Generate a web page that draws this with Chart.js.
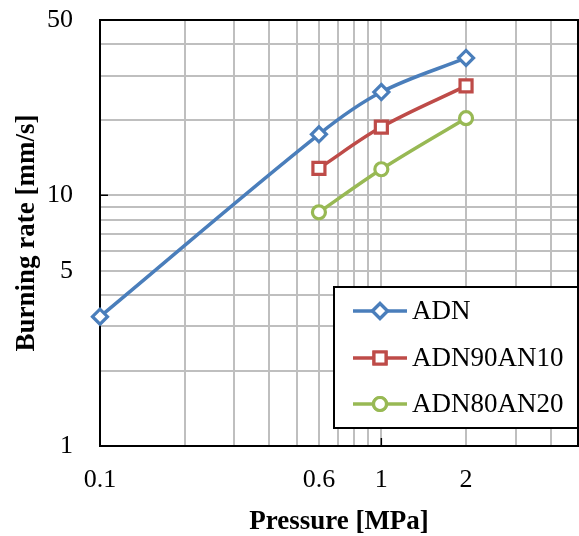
<!DOCTYPE html>
<html><head><meta charset="utf-8">
<script src="https://cdn.jsdelivr.net/npm/chart.js@4"></script>
<style>html,body{margin:0;padding:0;background:#fff}#wrap{width:579px;height:536px}</style>
</head><body><div id="wrap"><canvas id="c" width="579" height="536"></canvas></div>
<script>
const seriesNames = ['ADN', 'ADN90AN10', 'ADN80AN20'];
const pressureADN = [0.1, 0.6, 1, 2];
const rateADN = [3.28, 17.5, 25.8, 35.3];
const pressureMix = [0.6, 1, 2];
const rateADN90AN10 = [12.8, 18.7, 27.3];
const rateADN80AN20 = [8.55, 12.7, 20.3];
const xGridValues = [0.1,0.2,0.3,0.4,0.5,0.6,0.7,0.8,0.9,1,2,3,4,5];
const xTickLabels = [0.1, 0.6, 1, 2];
const yGridValues = [1,2,3,4,5,6,7,8,9,10,20,30,40,50];
const yTickLabels = [1, 5, 10, 50];

const colors = ['#4A7EBB', '#BE4B48', '#98B954'];
const styles = ['rectRot', 'rect', 'circle'];
const radii = [7.5, 8.5, 6.5];
const SERIF = '"Liberation Serif", "Times New Roman", serif';

function pts(xs, ys) { return xs.map((x, i) => ({x: x, y: ys[i]})); }
const rawData = [pts(pressureADN, rateADN), pts(pressureMix, rateADN90AN10), pts(pressureMix, rateADN80AN20)];

const datasets = rawData.map((d, i) => ({
  label: seriesNames[i],
  data: d,
  borderColor: colors[i],
  borderWidth: 3.5,
  tension: 0.35,
  pointStyle: styles[i],
  pointRadius: radii[i],
  pointHoverRadius: radii[i],
  pointBackgroundColor: '#fff',
  pointBorderColor: colors[i],
  pointBorderWidth: 3.2,
  clip: false,
  fill: false
}));

const framePlugin = {
  id: 'frame',
  beforeDatasetsDraw(chart) {
    const {ctx, chartArea: a, scales} = chart;
    ctx.save();
    ctx.strokeStyle = '#000';
    ctx.lineWidth = 2;
    ctx.strokeRect(a.left, a.top, a.right - a.left, a.bottom - a.top);
    ctx.lineWidth = 1.5;
    const y10 = scales.y.getPixelForValue(10);
    ctx.beginPath(); ctx.moveTo(a.left, y10); ctx.lineTo(a.left + 8, y10); ctx.stroke();
    const x1 = scales.x.getPixelForValue(1);
    ctx.beginPath(); ctx.moveTo(x1, a.bottom); ctx.lineTo(x1, a.bottom - 8); ctx.stroke();
    ctx.restore();
  },
  afterDatasetsDraw(chart) {
    const {ctx, chartArea: a} = chart;
    ctx.save();
    const bx = 334, by = 287, bw = a.right - 334, bh = 141;
    ctx.fillStyle = '#fff';
    ctx.fillRect(bx, by, bw, bh);
    ctx.strokeStyle = '#000';
    ctx.lineWidth = 2;
    ctx.strokeRect(bx, by, bw, bh);
    const rows = [311, 358, 404];
    chart.data.datasets.forEach((ds, i) => {
      const yy = rows[i];
      ctx.strokeStyle = ds.borderColor;
      ctx.lineWidth = 3.5;
      ctx.beginPath(); ctx.moveTo(353, yy); ctx.lineTo(407, yy); ctx.stroke();
      ctx.fillStyle = '#fff';
      ctx.lineWidth = 3.2;
      Chart.helpers.drawPoint(ctx, {pointStyle: ds.pointStyle, radius: ds.pointRadius, borderWidth: 3.2, rotation: 0}, 380, yy);
      ctx.fill(); ctx.stroke();
      ctx.fillStyle = '#000';
      ctx.font = '27px ' + SERIF;
      ctx.textBaseline = 'middle';
      ctx.textAlign = 'left';
      ctx.fillText(ds.label, 412, yy + 1);
    });
    ctx.restore();
  }
};

new Chart(document.getElementById('c'), {
  type: 'line',
  data: { datasets: datasets },
  options: {
    responsive: false,
    animation: false,
    devicePixelRatio: 1,
    layout: { autoPadding: false, padding: { top: 20, right: 1, left: 0, bottom: 0 } },
    plugins: { legend: { display: false }, tooltip: { enabled: false } },
    scales: {
      x: {
        type: 'logarithmic',
        min: 0.1, max: 5,
        afterBuildTicks: s => { s.ticks = xGridValues.map(v => ({value: v})); },
        afterFit: s => { s.height = 90; s.paddingLeft = 0; s.paddingRight = 0; },
        ticks: {
          autoSkip: false, maxRotation: 0, padding: 0,
          color: '#000', font: { family: SERIF, size: 26 },
          callback: v => xTickLabels.includes(v) ? String(v) : ''
        },
        grid: { color: '#BFBFBF', lineWidth: 2, drawTicks: true, tickLength: 19, tickColor: 'rgba(0,0,0,0)' },
        border: { display: false },
        title: { display: true, text: 'Pressure [MPa]', color: '#000',
          font: { family: SERIF, size: 27, weight: 'bold', lineHeight: 1 }, padding: { top: 0, bottom: 0 } }
      },
      y: {
        type: 'logarithmic',
        min: 1, max: 50,
        afterBuildTicks: s => { s.ticks = yGridValues.map(v => ({value: v})); },
        afterFit: s => { s.width = 100; s.paddingTop = 0; s.paddingBottom = 0; },
        ticks: {
          autoSkip: false, padding: 0,
          color: '#000', font: { family: SERIF, size: 26 },
          callback: v => yTickLabels.includes(v) ? String(v) : ''
        },
        grid: { color: '#BFBFBF', lineWidth: 2, drawTicks: true, tickLength: 27, tickColor: 'rgba(0,0,0,0)' },
        border: { display: false },
        title: { display: true, text: 'Burning rate [mm/s]', color: '#000',
          font: { family: SERIF, size: 27, weight: 'bold', lineHeight: 1 }, padding: { top: 14, bottom: 0 } }
      }
    }
  },
  plugins: [framePlugin]
});
</script></body></html>
